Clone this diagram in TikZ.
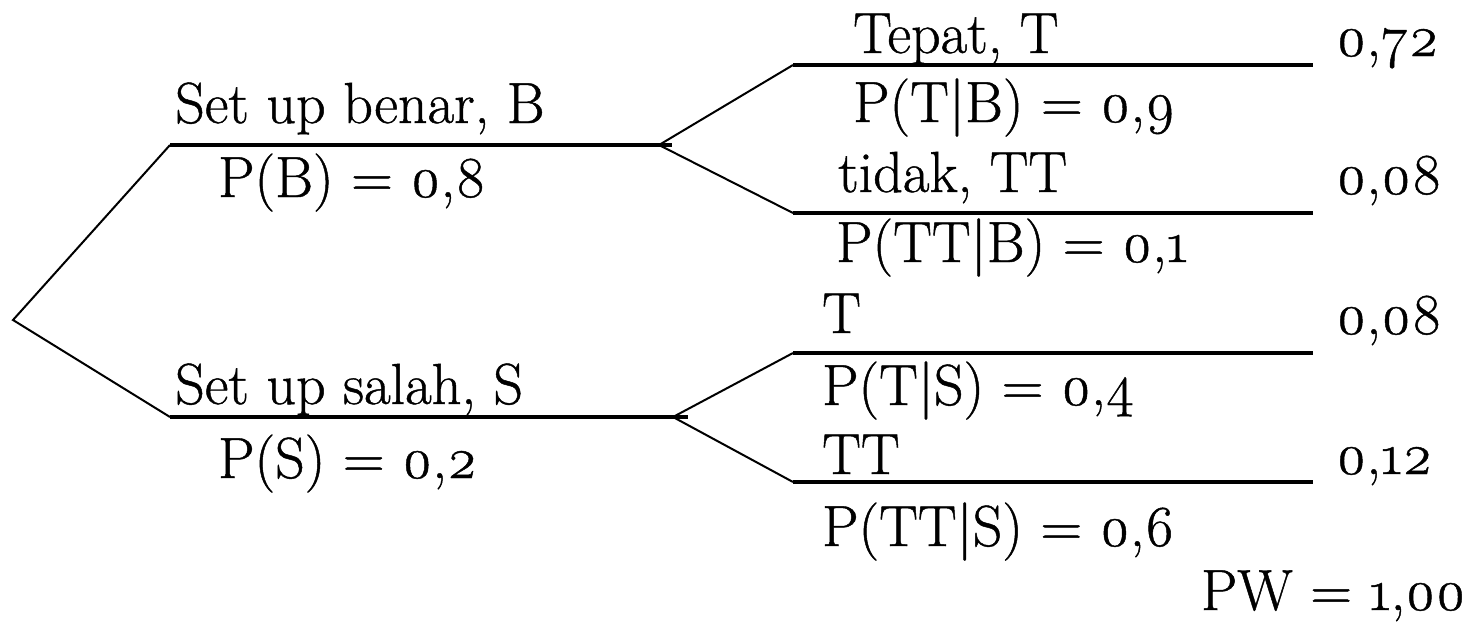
\documentclass[tikz,border=0pt]{standalone}
\usepackage{fontspec}
\setmainfont{Latin Modern Roman}[Numbers=OldStyle,FakeBold=0.8]
\begin{document}
\begin{tikzpicture}
		[x=1pt,y=-1pt,
		font=\fontsize{58}{64}\selectfont,
		lbl/.style={anchor=base west,inner sep=0pt},
		branch/.style={line width=2pt},
		stem/.style={line width=3.2pt},]
		\useasboundingbox[fill=white](0,0)rectangle(1474,624);
		% titik percabangan
		\coordinate(root)at(13,320);
		\coordinate(B0)at(170,145);
		\coordinate(B1)at(659,145);
		\coordinate(B2)at(672,145);
		\coordinate(S0)at(170,417);
		\coordinate(S1)at(673,417);
		\coordinate(S2)at(688,417);
		\coordinate(BT0)at(793,65);
		\coordinate(BT1)at(1313,65);
		\coordinate(BTT0)at(793,213);
		\coordinate(BTT1)at(1313,213);
		\coordinate(ST0)at(793,353);
		\coordinate(ST1)at(1313,353);
		\coordinate(STT0)at(793,482);
		\coordinate(STT1)at(1313,482);
		% cabang pertama
		\draw[branch](B0)--(root)--(S0);
		\draw[stem](B0)--(B2);
		\draw[stem](S0)--(S2);
		% cabang kedua
		\draw[branch](BT0)--(B1)--(BTT0);
		\draw[branch](ST0)--(S1)--(STT0);
		\draw[stem](BT0)--(BT1);
		\draw[stem](BTT0)--(BTT1);
		\draw[stem](ST0)--(ST1);
		\draw[stem](STT0)--(STT1);
		% label
		\node[lbl](setB)at(175,123){Set up benar, B};
		\node[lbl](pB)at(218,197){P(B) = 0,8};
		\node[lbl](setS)at(175,404){Set up salah, S};
		\node[lbl](pS)at(218,478){P(S) = 0,2};
		\node[lbl](tepat)at(853,53){Tepat, T};
		\node[lbl](pTB)at(853,122){P(T|B) = 0,9};
		\node[lbl](tidak)at(838,192){tidak, TT};
		\node[lbl](pTTB)at(836,262){P(TT|B) = 0,1};
		\node[lbl](T)at(822,333){T};
		\node[lbl](pTS)at(822,405){P(T|S) = 0,4};
		\node[lbl](TT)at(822,474){TT};
		\node[lbl](pTTS)at(822,546){P(TT|S) = 0,6};
		\node[lbl](h1)at(1336,56){0,72};
		\node[lbl](h2)at(1336,194){0,08};
		\node[lbl](h3)at(1336,334){0,08};
		\node[lbl](h4)at(1336,474){0,12};
		\node[lbl,anchor=base east](pw)at(1466,610){PW = 1,00};
	\end{tikzpicture}
\end{document}
